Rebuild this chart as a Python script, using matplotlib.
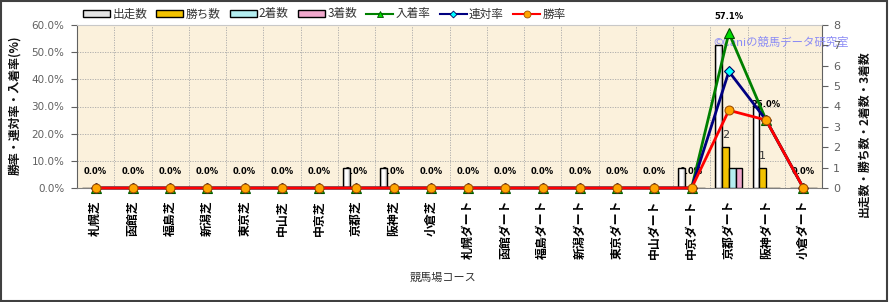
import matplotlib
matplotlib.use("Agg")
import matplotlib.pyplot as plt
import numpy as np
from matplotlib.patches import Rectangle
from matplotlib.lines import Line2D
from matplotlib.colors import LinearSegmentedColormap

plt.rcParams['font.family'] = ['Noto Sans CJK JP', 'DejaVu Sans']

categories = ['札幌芝', '函館芝', '福島芝', '新潟芝', '東京芝', '中山芝', '中京芝', '京都芝', '阪神芝', '小倉芝',
              '札幌ダート', '函館ダート', '福島ダート', '新潟ダート', '東京ダート', '中山ダート', '中京ダート',
              '京都ダート', '阪神ダート', '小倉ダート']
starts = [0, 0, 0, 0, 0, 0, 0, 1, 1, 0, 0, 0, 0, 0, 0, 0, 1, 7, 4, 0]
wins = [0, 0, 0, 0, 0, 0, 0, 0, 0, 0, 0, 0, 0, 0, 0, 0, 0, 2, 1, 0]
seconds = [0, 0, 0, 0, 0, 0, 0, 0, 0, 0, 0, 0, 0, 0, 0, 0, 0, 1, 0, 0]
thirds = [0, 0, 0, 0, 0, 0, 0, 0, 0, 0, 0, 0, 0, 0, 0, 0, 0, 1, 0, 0]
place_rate = [0, 0, 0, 0, 0, 0, 0, 0, 0, 0, 0, 0, 0, 0, 0, 0, 0, 57.1, 25.0, 0]
quinella_rate = [0, 0, 0, 0, 0, 0, 0, 0, 0, 0, 0, 0, 0, 0, 0, 0, 0, 42.9, 25.0, 0]
win_rate = [0, 0, 0, 0, 0, 0, 0, 0, 0, 0, 0, 0, 0, 0, 0, 0, 0, 28.6, 25.0, 0]
pct_ticks = [0, 10, 20, 30, 40, 50, 60]
cnt_ticks = [0, 1, 2, 3, 4, 5, 6, 7, 8]

W, H = 890, 302
fig = plt.figure(figsize=(W / 100, H / 100), dpi=100)
fig.patch.set_facecolor('white')

L, R, T, B = 77, 822, 25, 188
pos = [L / W, 1 - B / H, (R - L) / W, (B - T) / H]
ax = fig.add_axes(pos)
ax2 = ax.twinx()
ax3 = ax.twinx()

x = np.arange(len(categories))
xlim = (-0.5, len(categories) - 0.5)

# background axis (pct scale)
ax.set_facecolor('#FBF1DC')
ax.set_xlim(*xlim)
ax.set_ylim(0, 60)
ax.set_yticks(pct_ticks)
ax.set_yticklabels([f'{v:.1f}%' for v in pct_ticks], color='#606060', fontsize=7.5,
                   family=['DejaVu Sans'])
ax.tick_params(axis='y', direction='out', length=4, color='#606060', pad=5)
ax.set_xticks(x)
ax.set_xticklabels(categories, rotation=90, fontsize=8.6, color='black', va='top', ha='center',
                   fontweight='bold')
ax.tick_params(axis='x', length=0, pad=8.6)
ax.set_xticks(np.arange(len(categories) - 1) + 0.5, minor=True)
ax.tick_params(axis='x', which='minor', length=0)
ax.grid(True, axis='y', which='major', linestyle=(0, (1.5, 1.5)), color='#a8a8a8', linewidth=0.6)
ax.grid(True, axis='x', which='minor', linestyle=(0, (1.5, 1.5)), color='#a8a8a8', linewidth=0.6)
ax.grid(False, axis='x', which='major')
for s in ['left', 'right']:
    ax.spines[s].set_color('#606060')
ax.spines['top'].set_color('#c8c8c8')
ax.spines['bottom'].set_color('#808080')

# data labels of place rate (drawn below bars)
for xi, v in zip(x, place_rate):
    ax.annotate(f'{v:.1f}%', (xi, v), xytext=(0, 16), textcoords='offset pixels',
                ha='center', va='center', fontsize=6, fontweight='bold', color='black',
                family=['DejaVu Sans'], zorder=3)

# bars (count scale)
bw = 0.18
ax2.set_ylim(0, 8)
ax2.set_xlim(*xlim)
b1 = ax2.bar(x - 1.5 * bw, starts, bw, facecolor='none', edgecolor='black', linewidth=1, zorder=3)
cm = LinearSegmentedColormap.from_list('cyl', ['#a0a0a0', '#ffffff', '#ffffff', '#b8b8b8'])
grad = np.linspace(0, 1, 32).reshape(1, -1)
for rect in b1:
    h = rect.get_height()
    if h > 0:
        x0 = rect.get_x()
        im = ax2.imshow(grad, extent=[x0, x0 + bw, 0, h], aspect='auto', cmap=cm, zorder=2.5)
        im.set_clip_path(rect)
b2 = ax2.bar(x - 0.5 * bw, wins, bw, color='#F2C200', edgecolor='black', linewidth=1, zorder=3)
b3 = ax2.bar(x + 0.5 * bw, seconds, bw, color='#B4EEF0', edgecolor='black', linewidth=1, zorder=3)
b4 = ax2.bar(x + 1.5 * bw, thirds, bw, color='#F0A8CC', edgecolor='black', linewidth=1, zorder=3)
for rect, v in zip(b2, wins):
    if v > 0:
        ax2.annotate(f'{v}', (rect.get_x() + bw / 2, v), xytext=(0, 12), textcoords='offset pixels',
                     ha='center', va='center', fontsize=8, color='#333333', family=['DejaVu Sans'])
ax2.set_xlim(*xlim)
ax2.set_ylim(0, 8)
ax2.set_yticks(cnt_ticks)
ax2.set_yticklabels([str(v) for v in cnt_ticks], color='#606060', fontsize=8, family=['DejaVu Sans'])
ax2.tick_params(axis='y', direction='out', length=4, color='#606060', pad=4)
for s in ax2.spines.values():
    s.set_visible(False)

# watermark
ax2.text((713 - L) / (R - L), 1 - (42 - T) / (B - T), '©Caniの競馬データ研究室',
         transform=ax2.transAxes, ha='left', va='center', fontsize=8.2, color='#8c8cf5', zorder=1)

# lines (pct scale)
ax3.set_ylim(0, 60)
ax3.set_xlim(*xlim)
ax3.yaxis.set_visible(False)
for s in ax3.spines.values():
    s.set_visible(False)
l1, = ax3.plot(x, place_rate, color='#008000', lw=2, marker='^', ms=7.5, mfc='#00DD00', mec='#005000',
               mew=0.8, clip_on=False, zorder=3)
l2, = ax3.plot(x, quinella_rate, color='#000080', lw=2, marker='D', ms=5, mfc='#00FFFF', mec='#000060',
               mew=0.8, clip_on=False, zorder=4)
l3, = ax3.plot(x, win_rate, color='#FF0000', lw=2, marker='o', ms=6.4, mfc='#FFA500', mec='#A05000',
               mew=0.8, clip_on=False, zorder=5)

# legend
h1 = Rectangle((0, 0), 1, 1, facecolor='#e4e4e4', edgecolor='black', linewidth=1)
h2 = Rectangle((0, 0), 1, 1, facecolor='#F2C200', edgecolor='black', linewidth=1)
h3 = Rectangle((0, 0), 1, 1, facecolor='#B4EEF0', edgecolor='black', linewidth=1)
h4 = Rectangle((0, 0), 1, 1, facecolor='#F0A8CC', edgecolor='black', linewidth=1)
lh1 = Line2D([], [], color='#008000', lw=1.5, marker='^', ms=5, mfc='#00DD00', mec='#005000', mew=0.6)
lh2 = Line2D([], [], color='#000080', lw=1.5, marker='D', ms=3.5, mfc='#00FFFF', mec='#000060', mew=0.6)
lh3 = Line2D([], [], color='#FF0000', lw=1.5, marker='o', ms=5, mfc='#FFA500', mec='#A05000', mew=0.6)
fig.legend([h1, h2, h3, h4, lh1, lh2, lh3], ['出走数', '勝ち数', '2着数', '3着数', '入着率', '連対率', '勝率'],
           loc='center left', bbox_to_anchor=(83 / W, 1 - 14 / H), ncol=7, frameon=False,
           fontsize=8.4, handlelength=2.3, handleheight=0.6, handletextpad=0.2, columnspacing=0.8,
           borderpad=0, borderaxespad=0, labelcolor='#333333')

# axis titles
fig.text(15 / W, 1 - 105 / H, '勝率・連対率・入着率(%)', rotation=90, ha='center', va='center',
         fontsize=8.6, color='#111111', fontweight='bold')
fig.text(864 / W, 1 - 134 / H, '出走数・勝ち数・2着数・3着数', rotation=90, ha='center', va='center',
         fontsize=8.5, color='#111111', fontweight='bold')
fig.text(443 / W, 1 - 278 / H, '競馬場コース', ha='center', va='center', fontsize=8, color='#333333')

# outer frame
fig.patches.append(Rectangle((0.5 / W, 1.5 / H), 886.5 / W, 300 / H, transform=fig.transFigure,
                             fill=False, edgecolor='#404040', linewidth=1.5))

fig.savefig('out.png', dpi=100)
